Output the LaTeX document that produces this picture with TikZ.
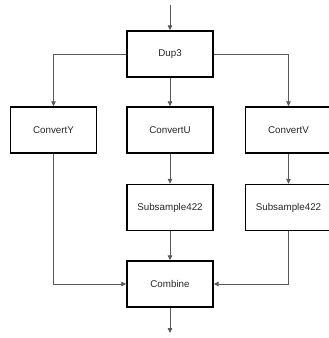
\documentclass[tikz,border=0pt]{standalone}
\usepackage{fontspec}
\setmainfont{Liberation Sans}
\usetikzlibrary{arrows.meta}

\begin{document}
\begin{tikzpicture}[x=1pt,y=-1pt]
\tikzset{BoxStyle/.style = {draw, line width=1.4pt, minimum width=86pt, minimum height=46pt, inner sep=0pt, font=\fontsize{9.8}{12}\selectfont, text=black!85},
         LinkStyle/.style = {draw=black!65, line width=0.8pt, -{Triangle[length=5pt,width=4.5pt]}}}
\useasboundingbox (0,0) rectangle (329,338);
\clip (0,0) rectangle (329,338);
\node[BoxStyle] (Dup) at (170,54) {Dup3};
\node[BoxStyle] (ConvY) at (53.5,130) {ConvertY}; \node[BoxStyle] (ConvU) at (170,130) {ConvertU}; \node[BoxStyle] (ConvV) at (288.5,130) {ConvertV};
\node[BoxStyle] (SubU) at (170,207.5) {Subsample422}; \node[BoxStyle] (SubV) at (288.5,207.5) {Subsample422};
\node[BoxStyle] (Comb) at (170,284) {Combine};
\coordinate (In) at (170,5); \coordinate (Out) at (170,333);
\draw[LinkStyle] (In) -- (Dup);
\draw[LinkStyle] (Dup.west) -| (ConvY.north); \draw[LinkStyle] (Dup) -- (ConvU); \draw[LinkStyle] (Dup.east) -| (ConvV.north);
\draw[LinkStyle] (ConvU) -- (SubU); \draw[LinkStyle] (ConvV) -- (SubV);
\draw[LinkStyle] (SubU) -- (Comb);
\draw[LinkStyle] (ConvY.south) |- (Comb.west); \draw[LinkStyle] (SubV.south) |- (Comb.east);
\draw[LinkStyle] (Comb) -- (Out);
\end{tikzpicture}
\end{document}
